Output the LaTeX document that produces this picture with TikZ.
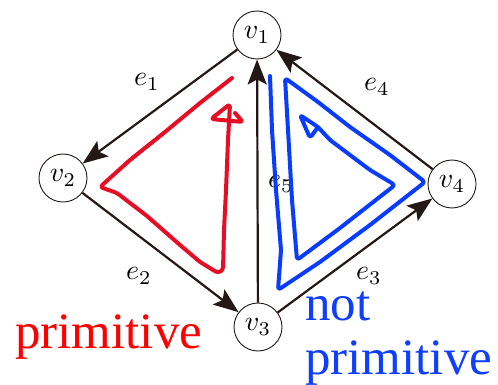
\documentclass[tikz,border=0pt]{standalone}
\usepackage{fontspec}
\setmainfont{Liberation Serif}
\usetikzlibrary{arrows.meta}
\definecolor{ink}{HTML}{231815}
\definecolor{penred}{HTML}{E60E25}
\definecolor{penblue}{HTML}{0A3CFF}
\definecolor{textred}{HTML}{FF0000}
\definecolor{textblue}{HTML}{0F3EFF}
\newcommand{\bigmath}[1]{\scalebox{2.8}{$#1$}}

\begin{document}
\begin{tikzpicture}[x=1pt,y=-1pt,
  vertex/.style={circle,draw=ink,line width=0.9pt,minimum size=48pt,inner sep=0pt},
  edge/.style={ink,line width=2.2pt,-{Stealth[length=25pt,width=19pt,inset=5pt]}},
  elabel/.style={inner sep=0pt},
  pen/.style={line width=4pt,line cap=round,line join=round,rounded corners=3pt},
  bigword/.style={font=\fontsize{51}{54}\selectfont,anchor=base west,inner sep=0pt}]
  \useasboundingbox (0,0) rectangle (498,385);

  % vertices
  \node[vertex] (v1) at (257,35) {\bigmath{v_1}};
  \node[vertex] (v2) at (63,178) {\bigmath{v_2}};
  \node[vertex] (v3) at (258,327) {\bigmath{v_3}};
  \node[vertex] (v4) at (452,184) {\bigmath{v_4}};

  % edges
  \draw[edge] (v1) -- (v2);
  \draw[edge] (v2) -- (v3);
  \draw[edge] (v3) -- (v4);
  \draw[edge] (v4) -- (v1);
  \draw[edge] (v3) -- (v1);

  \node[elabel] (e1) at (147,82) {\bigmath{e_1}};
  \node[elabel] (e2) at (139,276) {\bigmath{e_2}};
  \node[elabel] (e3) at (369,276) {\bigmath{e_3}};
  \node[elabel] (e4) at (377,87) {\bigmath{e_4}};
  \node[elabel] (e5) at (281,184) {\bigmath{e_5}};

  % hand-drawn cycles
  \draw[pen,penred] (232,78) -- (200,103) -- (165,132) -- (130,160) -- (100,187)
    -- (117,193) -- (147,216) -- (180,245) -- (200,262) -- (218,273) -- (223,270)
    -- (224,230) -- (226,190) -- (228,140) -- (230,104) -- (211,119) -- (243,122)
    -- (235,113);
  \draw[pen,penblue] (270,76) -- (272,130) -- (276,190) -- (281,250) -- (278,290)
    -- (320,262) -- (370,225) -- (425,182) -- (390,155) -- (350,127) -- (318,102)
    -- (285,78) -- (288,130) -- (292,200) -- (297,260) -- (340,228) -- (395,185)
    -- (370,170) -- (350,155) -- (330,140) -- (318,127) -- (300,115) -- (310,138)
    -- (318,127);

  \node[bigword,text=textred] (prim) at (15,348) {primitive};
  \node[bigword,text=textblue] (notword) at (305,320) {not};
  \node[bigword,text=textblue] (primword) at (305,374) {primitive};
\end{tikzpicture}
\end{document}
